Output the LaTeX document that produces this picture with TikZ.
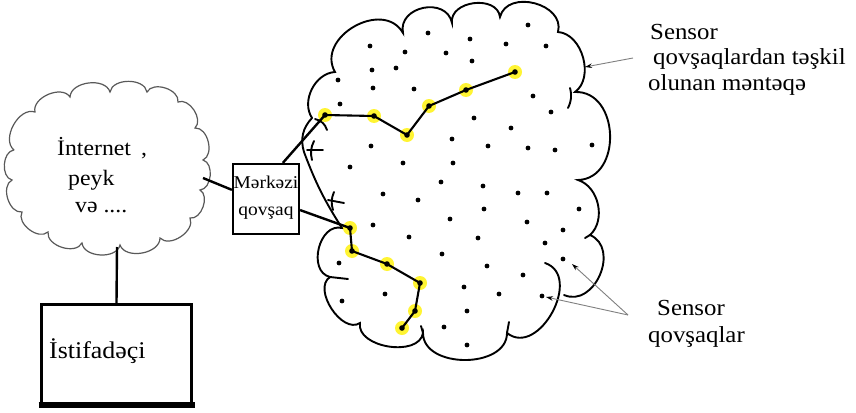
\documentclass[tikz,border=0pt]{standalone}
\usepackage{fontspec}
\setmainfont{Liberation Serif}[FakeStretch=1.08]
\usetikzlibrary{arrows.meta}
\begin{document}
\begin{tikzpicture}[x=1pt,y=-1pt,
  bcl/.style={line width=1.9pt, line cap=round},
  lcl/.style={draw=black!65, line width=1.2pt, line cap=round},
  link/.style={line width=2.4pt},
  rlink/.style={line width=2.1pt},
  txt/.style={inner sep=0pt, anchor=base west, font=\fontsize{23}{25}\selectfont},
  ctxt/.style={inner sep=0pt, anchor=base west, font=\fontsize{22}{25}\selectfont},
  htxt/.style={inner sep=0pt, anchor=base, font=\fontsize{18}{22}\selectfont},
  box/.style={draw, fill=white, inner sep=0pt},
  glow/.style={fill=yellow, opacity=0.8},
  pointer/.style={draw=black!50, line width=0.9pt, -{Stealth[length=7pt,width=4.5pt,black]}}]
\useasboundingbox[fill=white] (0,0) rectangle (856,412);

% ---------- left cloud ----------
\draw[lcl] (14,150) to[bend left=80] (35,112) to[bend left=80] (70,97)
  to[bend left=80] (110,92) to[bend left=80] (147,92) to[bend left=80] (178,102)
  to[bend left=80] (195,128) to[bend left=80] (203,160) to[bend left=80] (200,190)
  to[bend left=80] (190,218) to[bend left=80] (160,238) to[bend left=80] (120,245)
  to[bend left=80] (82,243) to[bend left=80] (48,232) to[bend left=80] (22,212)
  to[bend left=80] (12,180) to[bend left=80] (14,150);
\coordinate (cR) at (203,178);
\coordinate (cB) at (117,247);

\node[ctxt] (t1) at (57,155) {İnternet\hspace{10pt},};
\node[ctxt] (t2) at (68,185) {peyk};
\node[ctxt] (t3) at (75,212) {və ....};

% ---------- boxes ----------
\node[box, line width=3pt, minimum width=150pt, minimum height=99pt] (user) at (116.5,354) {};
\draw[line width=5.5pt] ([xshift=-1.5pt]user.south west) -- ([xshift=1.5pt]user.south east);
\node[txt, font=\fontsize{24}{26}\selectfont] (ut) at (49,358) {İstifadəçi};

\node[box, line width=2.2pt, minimum width=66pt, minimum height=70pt] (hub) at (266,199) {};
\node[htxt] (h1) at (266,188) {Mərkəzi};
\node[htxt] (h2) at (266,215) {qovşaq};

\draw[link] (cB) -- (user.north);
\draw[link] (cR) -- (hub.165);

% ---------- big cloud ----------
\draw[bcl] (312,118) to[bend left=60] (335,72)
  to[bend left=90, looseness=1.3] (403,33)
  to[bend left=90, looseness=1.4] (452,23)
  to[bend left=90, looseness=1.2] (500,17)
  to[bend left=90, looseness=1.25] (558,32)
  to[bend left=70] (575,92)
  to[bend left=90, looseness=1.3] (578,180)
  to[bend left=60] (590,235)
  to[bend left=90, looseness=1.3] (564,295);
\draw[bcl] (545,263) to[bend left=100, looseness=1.3] (507,333)
  to[bend left=90, looseness=1.1] (423,333)
  to[bend left=90] (360,323)
  to[bend left=90] (330,277)
  to[bend left=90, looseness=1.2] (342,228)
  to[bend left=6] (304,152)
  to[bend left=30] (312,118);
% small extra strokes of the hand-drawn outline
\draw[bcl] (507,333) -- (509,322);
\draw[bcl] (423,333) -- (421,326);
\draw[bcl] (570,88) to[bend left=20] (568,108);
\draw[bcl] (590,235) -- (585,238);
\draw[bcl] (315,119) to[bend left=30] (327,130);
\draw[bcl] (307,150) -- (323,150);
\draw[bcl] (314,141) to[bend right=20] (312,160);
\draw[bcl] (328,200) -- (344,203);
\draw[bcl] (334,192) to[bend right=20] (333,210);
\draw[bcl] (330,277) -- (348,279);

% ---------- sensor dots ----------
\foreach \p in {(528,25),(428,33),(470,39),(370,46),(506,44),(546,46),(405,52),(446,53),
  (472,61),(372,70),(396,68),(338,80),(373,88),(414,89),(533,96),(340,104),(551,112),
  (474,118),(511,128),(452,139),(371,146),(488,146),(528,148),(555,150),(592,145),
  (350,167),(403,163),(453,163),(441,182),(483,186),(518,193),(547,193),(383,194),
  (418,200),(484,209),(579,209),(450,219),(527,222),(373,225),(563,230),(409,237),
  (478,238),(545,243),(442,254),(339,263),(487,266),(563,259),(523,275),(464,287),
  (385,294),(499,294),(342,301),(542,296),(467,311),(444,327),(467,345)}
  \fill \p circle (2.4);

% ---------- routes ----------
\coordinate (a1) at (325,115);
\coordinate (a2) at (374,116);
\coordinate (a3) at (407,135);
\coordinate (a4) at (429,106);
\coordinate (a5) at (466,90);
\coordinate (a6) at (515,72);
\coordinate (b1) at (350,228);
\coordinate (b2) at (352,251);
\coordinate (b3) at (387,264);
\coordinate (b4) at (420,283);
\coordinate (b5) at (415,311);
\coordinate (b6) at (402,328);
\foreach \n in {a1,a2,a3,a4,a5,a6,b1,b2,b3,b4,b5,b6}
  \fill[glow] (\n) circle (7);
\draw[link] (hub.65) -- (a1);
\draw[link] (hub.-18) -- (b1);
\draw[rlink] (a1) -- (a2) -- (a3) -- (a4) -- (a5) -- (a6);
\draw[rlink] (b1) -- (b2) -- (b3) -- (b4) -- (b5) -- (b6);
\foreach \n in {a1,a2,a3,a4,a5,a6,b1,b2,b3,b4,b5,b6}
  \fill (\n) circle (2.8);

% ---------- labels ----------
\node[txt] (s1) at (650,40) {Sensor};
\node[txt] (s2) at (653,65) {qovşaqlardan təşkil};
\node[txt] (s3) at (648,90) {olunan məntəqə};
\coordinate (p1) at (633,58);
\coordinate (e1) at (585,67);
\draw[pointer] (p1) -- (e1);

\node[txt] (q1) at (657,315) {Sensor};
\node[txt] (q2) at (648,342) {qovşaqlar};
\coordinate (p2) at (628,315);
\coordinate (e2) at (572,264);
\coordinate (e3) at (546,297);
\draw[pointer] (p2) -- (e2);
\draw[pointer] (p2) -- (e3);
\end{tikzpicture}
\end{document}
